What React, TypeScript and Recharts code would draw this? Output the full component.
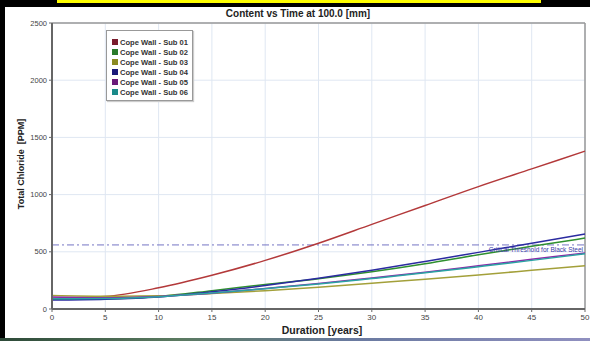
import React from 'react';
import { LineChart, Line, XAxis, YAxis, CartesianGrid, ReferenceLine } from 'recharts';

const years = [0, 5, 10, 15, 20, 25, 30, 35, 40, 45, 50];
const sub01 = [95, 110, 185, 295, 425, 575, 740, 905, 1070, 1225, 1380];
const sub02 = [85, 90, 110, 160, 215, 265, 325, 395, 475, 548, 620];
const sub03 = [118, 112, 115, 135, 160, 190, 225, 260, 298, 338, 378];
const sub04 = [78, 85, 105, 150, 205, 268, 338, 415, 495, 575, 655];
const sub05 = [105, 98, 110, 138, 180, 222, 272, 322, 378, 435, 490];
const sub06 = [90, 92, 108, 140, 178, 218, 266, 316, 370, 425, 482];
const yTicks = [0, 500, 1000, 1500, 2000, 2500];
const threshold = 560;

const seriesNames = [
  'Cope Wall - Sub 01',
  'Cope Wall - Sub 02',
  'Cope Wall - Sub 03',
  'Cope Wall - Sub 04',
  'Cope Wall - Sub 05',
  'Cope Wall - Sub 06',
];
const seriesValues = [sub01, sub02, sub03, sub04, sub05, sub06];
const lineColors = ['#b3393a', '#2f8f2f', '#a3a03a', '#2b2ba0', '#8a2aa8', '#2aa3a3'];
const legendColors = ['#7a1c2c', '#2a7a2a', '#8a8a22', '#1a1a7a', '#6a1a7a', '#1a8a8a'];

const data = years.map((y, i) => {
  const row: Record<string, number> = { year: y };
  seriesValues.forEach((s, k) => {
    row['s' + k] = s[i];
  });
  return row;
});

const font = '"Liberation Sans", Arial, sans-serif';

export default function App() {
  return (
    <div style={{ position: 'absolute', left: 0, top: 0, width: 590, height: 341, background: '#000', overflow: 'hidden', fontFamily: font }}>
      <div style={{ position: 'absolute', left: 57, top: 0, width: 484, height: 3, background: '#ffff00' }} />
      <div style={{ position: 'absolute', left: 5, top: 7, width: 585, height: 331, background: '#fff' }} />
      <div style={{ position: 'absolute', left: 0, top: 338, width: 590, height: 3, background: 'linear-gradient(90deg, #2d4a38, #5a7a60 30%, #6a7aa0 60%, #9090c0)' }} />
      <div style={{ position: 'absolute', left: 0, top: 0 }}>
        <LineChart width={590} height={341} data={data} margin={{ top: 23, right: 5, left: 22, bottom: 12 }}>
          <CartesianGrid stroke="#dfe7f2" strokeWidth={1} />
          <XAxis
            dataKey="year"
            type="number"
            domain={[0, 50]}
            ticks={years}
            height={20}
            tick={{ fontSize: 8, fill: '#444', fontFamily: font }}
            tickLine={{ stroke: '#666' }}
            tickSize={3}
            axisLine={{ stroke: '#666', strokeWidth: 2 }}
          />
          <YAxis
            type="number"
            domain={[0, 2500]}
            ticks={yTicks}
            width={30}
            tick={{ fontSize: 7.5, fill: '#444', fontFamily: font }}
            tickLine={{ stroke: '#666' }}
            tickSize={3}
            axisLine={{ stroke: '#666', strokeWidth: 2 }}
          />
          <ReferenceLine y={2500} stroke="#999" strokeWidth={1.5} />
          <ReferenceLine x={50} stroke="#999" strokeWidth={1.5} />
          <ReferenceLine
            y={threshold}
            stroke="#7474c4"
            strokeWidth={1}
            strokeDasharray="7 3 2 3"
            label={{ value: 'Critical Threshold for Black Steel', position: 'insideTopRight', fill: '#3a3aa8', fontSize: 6.5, offset: 2, fontFamily: font }}
          />
          {seriesNames.map((n, k) => (
            <Line
              key={n}
              type="monotone"
              dataKey={'s' + k}
              name={n}
              stroke={lineColors[k]}
              strokeWidth={1.5}
              dot={false}
              isAnimationActive={false}
            />
          ))}
        </LineChart>
      </div>
      <div style={{ position: 'absolute', left: 0, top: 8, width: 596, textAlign: 'center', fontSize: 10, fontWeight: 'bold', color: '#222' }}>
        Content vs Time at 100.0 [mm]
      </div>
      <div style={{ position: 'absolute', left: 0, top: 324, width: 644, textAlign: 'center', fontSize: 10.5, fontWeight: 'bold', color: '#222' }}>
        Duration [years]
      </div>
      <div style={{ position: 'absolute', left: 21, top: 165, width: 0, height: 0 }}>
        <div style={{ position: 'absolute', left: -60, top: -6, width: 120, textAlign: 'center', fontSize: 9, fontWeight: 'bold', color: '#222', transform: 'rotate(-90deg)', whiteSpace: 'nowrap' }}>
          Total Chloride&nbsp;&nbsp;[PPM]
        </div>
      </div>
      <div style={{ position: 'absolute', left: 106, top: 30, width: 87, height: 71, border: '1px solid #999', boxShadow: '1px 1px 1px #ccc', background: '#fff', boxSizing: 'border-box', padding: '6px 0 0 5px' }}>
        {seriesNames.map((n, k) => (
          <div key={n} style={{ display: 'flex', alignItems: 'center', height: 10, fontSize: 7.6, fontWeight: 600, color: '#333', whiteSpace: 'nowrap' }}>
            <span style={{ display: 'inline-block', width: 6, height: 6, background: legendColors[k], marginRight: 2 }} />
            {n}
          </div>
        ))}
      </div>
    </div>
  );
}
